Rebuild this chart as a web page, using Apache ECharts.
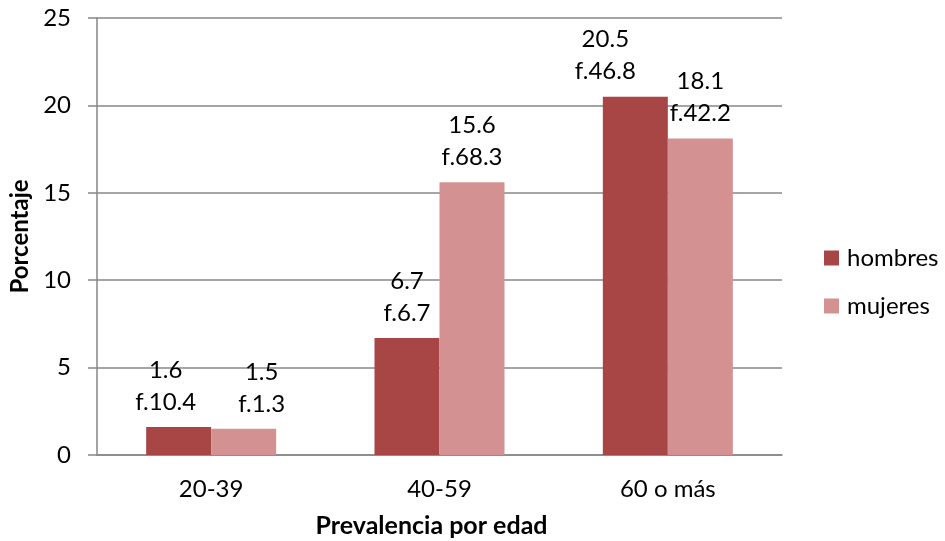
<!DOCTYPE html>
<html>
<head>
<meta charset="utf-8">
<script src="https://cdn.jsdelivr.net/npm/echarts@6/dist/echarts.min.js"></script>
<style>
  html, body { margin: 0; padding: 0; background: #fff; overflow: hidden; }
  #chart { width: 945px; height: 541px; }
</style>
</head>
<body>
<div id="chart"></div>
<script>
// Prevalencia por edad y sexo (porcentaje)
const categories = ['20-39', '40-59', '60 o más'];
const hombres = [1.6, 6.7, 20.5];
const mujeres = [1.5, 15.6, 18.1];
// Frecuencias mostradas bajo cada porcentaje
const hombresF = ['10.4', '6.7', '46.8'];
const mujeresF = ['1.3', '68.3', '42.2'];
const yTicks = [0, 5, 10, 15, 20, 25];

const FONT = 'Lato';
const AXIS_GREY = '#878787';

// Small horizontal nudges for the value labels
const hombresShift = [-13, 0, -30];
const mujeresShift = [18, 0, 0];

function items(values, shifts) {
  return values.map((v, i) => ({ value: v, label: { offset: [shifts[i], 0] } }));
}

function labelFor(freqs) {
  return {
    show: true,
    position: 'top',
    distance: 9,
    fontFamily: FONT,
    fontSize: 24,
    lineHeight: 32,
    color: '#000',
    align: 'center',
    formatter: p => p.value + '\n' + 'f.' + freqs[p.dataIndex]
  };
}

const chart = echarts.init(document.getElementById('chart'), null, { renderer: 'canvas', width: 945, height: 541 });
chart.setOption({
  animation: false,
  backgroundColor: '#fff',
  textStyle: { fontFamily: FONT },
  grid: { left: 97, right: 163, top: 18, bottom: 86, containLabel: false, outerBoundsMode: 'none' },
  legend: {
    orient: 'vertical',
    left: 819,
    top: 241,
    itemWidth: 15,
    itemHeight: 15,
    itemGap: 24,
    icon: 'rect',
    textStyle: { fontFamily: FONT, fontSize: 24, color: '#000', padding: [0, 0, 0, 3] },
    data: ['hombres', 'mujeres']
  },
  xAxis: {
    type: 'category',
    data: categories,
    name: 'Prevalencia por edad',
    nameLocation: 'middle',
    nameGap: 58,
    nameTextStyle: { fontFamily: FONT, fontSize: 25, fontWeight: 'bold', color: '#000', padding: [0, 16, 0, 0] },
    axisLine: { lineStyle: { color: AXIS_GREY, width: 1.5 } },
    axisTick: { show: false },
    axisLabel: { fontFamily: FONT, fontSize: 24, color: '#000', margin: 22 }
  },
  yAxis: {
    type: 'value',
    min: yTicks[0],
    max: yTicks[yTicks.length - 1],
    interval: yTicks[1] - yTicks[0],
    name: 'Porcentaje',
    nameLocation: 'middle',
    nameGap: 65,
    nameRotate: 90,
    nameTextStyle: { fontFamily: FONT, fontSize: 24, fontWeight: 'bold', color: '#000' },
    axisLine: { show: true, lineStyle: { color: AXIS_GREY, width: 1.5 } },
    axisTick: { show: true, length: 9, lineStyle: { color: AXIS_GREY, width: 1.5 } },
    axisLabel: { fontFamily: FONT, fontSize: 24, color: '#000', margin: 26 },
    splitLine: { show: true, lineStyle: { color: AXIS_GREY, width: 1.5 } }
  },
  series: [
    {
      name: 'hombres',
      type: 'bar',
      data: items(hombres, hombresShift),
      barWidth: 65,
      barGap: '0%',
      itemStyle: { color: '#A84645' },
      label: labelFor(hombresF)
    },
    {
      name: 'mujeres',
      type: 'bar',
      data: items(mujeres, mujeresShift),
      barWidth: 65,
      barGap: '0%',
      itemStyle: { color: '#D39291' },
      label: labelFor(mujeresF)
    }
  ]
});
</script>
</body>
</html>
